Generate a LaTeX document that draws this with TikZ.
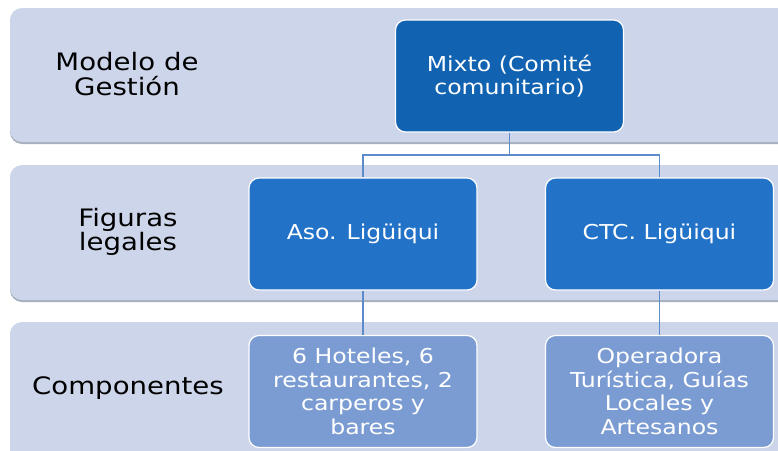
\documentclass[tikz,border=0pt]{standalone}
\usepackage{fontspec}
\setmainfont{DejaVu Sans}[FakeStretch=1.15]
\usepackage{tikz}
\usetikzlibrary{calc}
\definecolor{bandfill}{HTML}{CDD5EA}
\definecolor{bandshadow}{HTML}{A7AEBE}
\definecolor{topfill}{HTML}{1163B2}
\definecolor{midfill}{HTML}{2272C8}
\definecolor{lowfill}{HTML}{7B9CD2}
\definecolor{linkcol}{HTML}{5B8BC8}
\newcommand{\band}[4]{ \fill[bandshadow, rounded corners=12pt] ( #1 , #2+2 ) rectangle ( #3 , #4+2 ); \fill[bandfill, rounded corners=12pt] ( #1 , #2 ) rectangle ( #3 , #4 );}
\newcommand{\tierbox}[5]{\node[tier, fill=#4] (#1) at ( #2 , #3 ) {#5};}
\newcommand{\bandlabel}[4]{\node[bandtext] (#1) at ( #2 , #3 ) {#4};}

\begin{document}
\begin{tikzpicture}[x=1pt, y=-1pt,
  tier/.style={draw=white, line width=1.2pt, rounded corners=10pt, minimum width=228pt, minimum height=112pt, inner sep=0pt, text=white, align=center, font=\fontsize{20.5}{23.5}\selectfont},
  bandtext/.style={align=center, font=\fontsize{24}{24.5}\selectfont},
  link/.style={draw=linkcol, line width=1.2pt}]
\useasboundingbox (0,0) rectangle (778,450);
% background bands
\band{10}{8}{800}{142}
\band{10}{165}{800}{300}
\band{10}{322}{800}{480}
% band labels
\bandlabel{labmodelo}{127}{74}{Modelo de\\Gestión}
\bandlabel{labfiguras}{128}{232}{Figuras\\legales}
\bandlabel{labcomp}{128}{388}{Componentes}
% row 1 box
\tierbox{mixto}{509.5}{76}{topfill}{Mixto (Comité\\comunitario)}
% row 2 boxes
\tierbox{aso}{363}{234}{midfill}{Aso. Ligüiqui}
\tierbox{ctc}{659.5}{234}{midfill}{CTC. Ligüiqui}
% row 3 boxes
\tierbox{compaso}{363}{391.5}{lowfill}{\fontsize{20.5}{22}\selectfont 6 Hoteles, 6\\restaurantes, 2\\carperos y\\bares}
\tierbox{compctc}{659.5}{391.5}{lowfill}{\fontsize{20.5}{22}\selectfont Operadora\\Turística, Guías\\Locales y\\Artesanos}
% connectors
\coordinate (split) at (509.5,155);
\draw[link] (mixto.south) -- (split);
\draw[link] (aso.north) |- (split) -| (ctc.north);
\draw[link] (aso.south) -- (compaso.north);
\draw[link] (ctc.south) -- (compctc.north);
\end{tikzpicture}
\end{document}
